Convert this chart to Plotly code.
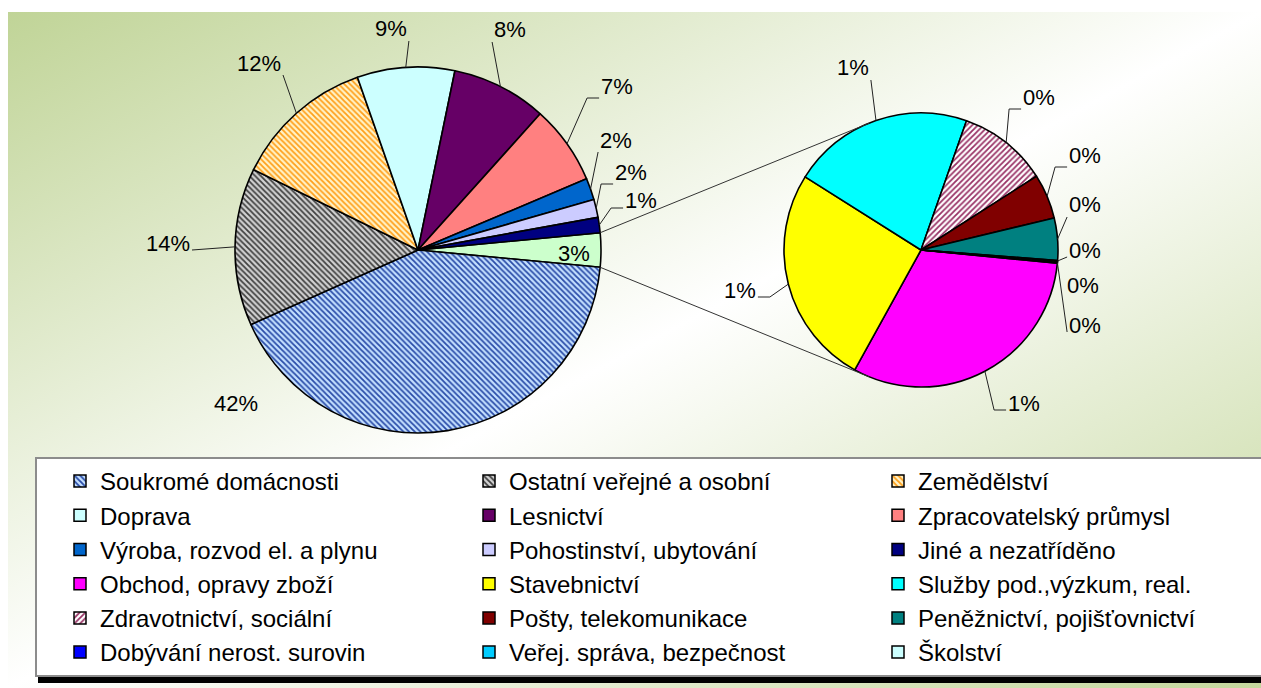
import math
import base64
import plotly.graph_objects as go

W, H = 1261, 688

# ---------------- data ----------------
categories = [
    "Soukromé domácnosti", "Ostatní veřejné a osobní", "Zemědělství",
    "Doprava", "Lesnictví", "Zpracovatelský průmysl",
    "Výroba, rozvod el. a plynu", "Pohostinství, ubytování", "Jiné a nezatříděno",
    "Obchod, opravy zboží", "Stavebnictví", "Služby pod.,výzkum, real.",
    "Zdravotnictví, sociální", "Pošty, telekomunikace", "Peněžnictví, pojišťovnictví",
    "Dobývání nerost. surovin", "Veřej. správa, bezpečnost", "Školství",
]
shares = [41.8, 13.9, 12.4, 8.6, 8.4, 7.0, 1.9, 1.6, 1.35,
          0.948, 0.78, 0.645, 0.318, 0.159, 0.15, 0.003, 0.003, 0.003]
n_main = 9  # first 9 categories in the main pie, the rest in the second pie
other_label = "Ostatní odvětví"

# ---------------- styles ----------------
colors = ["#99CCFF", "#969696", "#FFCC66", "#CCFFFF", "#660066", "#FF8080",
          "#0066CC", "#CCCCFF", "#000080", "#FF00FF", "#FFFF00", "#00FFFF",
          "#993366", "#800000", "#008080", "#0000FF", "#00CCFF", "#CCFFFF"]
pat_shape = ["\\", "\\", "\\", "", "", "", "", "", "", "", "", "",
             "/", "", "", "", "", ""]
pat_fg = ["#2A4CA8", "#404040", "#FF9F1A"] + colors[3:12] + ["#993366"] + colors[13:]
pat_bg = ["#C4E0FF", "#D2D2D2", "#FFF3C8"] + colors[3:12] + ["#FFFFFF"] + colors[13:]
other_color = "#CCFFCC"

FONT = "Liberation Sans, Arial, sans-serif"
LBL_SIZE = 22

C1 = (418.0, 250.0, 183.0)   # main pie centre / radius (px)
C2 = (921.0, 250.0, 137.0)   # second pie centre / radius (px)
ROT2 = 95.5

# label placement (px) and leader style per category
label_pos = {
    "Soukromé domácnosti": (236, 403, "none"),
    "Ostatní veřejné a osobní": (168, 243, "direct"),
    "Zemědělství": (259, 63, "direct"),
    "Doprava": (391, 29, "direct"),
    "Lesnictví": (510, 30, "direct"),
    "Zpracovatelský průmysl": (617, 86, "tail"),
    "Výroba, rozvod el. a plynu": (616, 140, "direct"),
    "Pohostinství, ubytování": (631, 172, "tail"),
    "Jiné a nezatříděno": (641, 201, "tail"),
    "Obchod, opravy zboží": (1024, 403, "tail"),
    "Stavebnictví": (740, 290, "tail"),
    "Služby pod.,výzkum, real.": (853, 68, "direct"),
    "Zdravotnictví, sociální": (1039, 97, "tail"),
    "Pošty, telekomunikace": (1085, 155, "tail"),
    "Peněžnictví, pojišťovnictví": (1085, 205, "direct"),
    "Dobývání nerost. surovin": (1085, 250, "direct"),
    "Veřej. správa, bezpečnost": (1083, 285, "none"),
    "Školství": (1085, 325, "direct"),
}


def px(x):
    return x / W


def py(y):
    return 1 - y / H


def pt(c, a_deg, rr=None):
    cx, cy, r = c
    rr = r if rr is None else rr
    a = math.radians(a_deg)
    return cx + rr * math.sin(a), cy - rr * math.cos(a)


def slices(values, rotation):
    tot = sum(values)
    acc = rotation
    out = []
    for v in values:
        a = 360.0 * v / tot
        out.append((acc, acc + a, acc + a / 2))
        acc += a
    return out


def domain(c):
    cx, cy, r = c
    return dict(x=[px(cx - r), px(cx + r)], y=[py(cy + r), py(cy - r)])


# main pie values (clockwise): other, then main categories
other_total = sum(shares[n_main:])
main_labels = [other_label] + categories[:n_main]
main_values = [other_total] + shares[:n_main]
main_total = sum(main_values)
other_deg = 360.0 * other_total / main_total
ROT1 = 90 - other_deg / 2

main_colors = [other_color] + colors[:n_main]
main_pshape = [""] + pat_shape[:n_main]
main_pfg = [other_color] + pat_fg[:n_main]
main_pbg = [other_color] + pat_bg[:n_main]

sec_labels = categories[n_main:]
sec_values = shares[n_main:]

fig = go.Figure()

common = dict(sort=False, direction="clockwise", textinfo="none",
              hoverinfo="skip", showlegend=False)

fig.add_trace(go.Pie(
    labels=main_labels, values=main_values, rotation=ROT1, domain=domain(C1),
    marker=dict(colors=main_colors, line=dict(color="black", width=1.6),
                pattern=dict(shape=main_pshape, fgcolor=main_pfg, bgcolor=main_pbg,
                             size=4, solidity=0.45)),
    **common))

fig.add_trace(go.Pie(
    labels=sec_labels, values=sec_values, rotation=ROT2, domain=domain(C2),
    marker=dict(colors=colors[n_main:], line=dict(color="black", width=1.6),
                pattern=dict(shape=pat_shape[n_main:], fgcolor=pat_fg[n_main:],
                             bgcolor=pat_bg[n_main:], size=4, solidity=0.45)),
    **common))

# legend carrier pie (tiny, hidden under the legend box)
fig.add_trace(go.Pie(
    labels=categories, values=[1] * len(categories), sort=False,
    textinfo="none", hoverinfo="skip", showlegend=True,
    domain=dict(x=[0.5, 0.5005], y=[0.15, 0.1505]),
    marker=dict(colors=colors, line=dict(color="black", width=1.5),
                pattern=dict(shape=pat_shape, fgcolor=pat_fg, bgcolor=pat_bg,
                             size=4, solidity=0.45))))

annotations = []
shapes = []


def add_line(p, q, color="#222222", width=1):
    shapes.append(dict(type="line", xref="paper", yref="paper",
                       x0=px(p[0]), y0=py(p[1]), x1=px(q[0]), y1=py(q[1]),
                       line=dict(color=color, width=width), layer="above"))


def pct_text(v):
    return f"{round(v * 100 / main_total):d}%"


def text_w(t):
    return LBL_SIZE * (0.556 * (len(t) - 1) + 0.889)


def add_label(cat, v, edge):
    cx, cy, kind = label_pos[cat]
    t = pct_text(v)
    annotations.append(dict(x=px(cx), y=py(cy), xref="paper", yref="paper",
                            text=t, showarrow=False, xanchor="center", yanchor="middle",
                            font=dict(family=FONT, size=LBL_SIZE, color="black")))
    if kind == "none":
        return
    ex, ey = edge
    hw = text_w(t) / 2
    if ex >= cx:
        ax, sgn = cx + hw + 2, 1
    else:
        ax, sgn = cx - hw - 2, -1
    ay = cy + 12 if ey > cy + 25 else cy + 7
    pts = [(ax, ay)]
    if kind == "tail":
        pts.append((ax + sgn * 12, ay))
    pts.append((ex, ey))
    for a, b in zip(pts[:-1], pts[1:]):
        add_line(a, b)


# labels of main pie
s1 = slices(main_values, ROT1)
for lab, v, (a0, a1, am) in zip(main_labels, main_values, s1):
    if lab == other_label:
        x, y = pt(C1, am, C1[2] * 0.85)
        annotations.append(dict(x=px(x), y=py(y + 3), xref="paper", yref="paper",
                                text=pct_text(v), showarrow=False,
                                font=dict(family=FONT, size=LBL_SIZE, color="black")))
    else:
        add_label(lab, v, pt(C1, am))

# labels of second pie
s2 = slices(sec_values, ROT2)
for lab, v, (a0, a1, am) in zip(sec_labels, sec_values, s2):
    add_label(lab, v, pt(C2, am))

# connector (tangent) lines between the "other" slice and the second pie
oa0, oa1, _ = s1[0]
cx2, cy2, r2 = C2
for a_deg, sgn in ((oa0, -1), (oa1, 1)):
    P = pt(C1, a_deg)
    dx, dy = cx2 - P[0], cy2 - P[1]
    d = math.hypot(dx, dy)
    th = math.atan2(dy, dx)
    ph = math.asin(r2 / d)
    L = math.sqrt(d * d - r2 * r2)
    ang = th + sgn * ph
    T = (P[0] + L * math.cos(ang), P[1] + L * math.sin(ang))
    add_line(P, T, color="#333333", width=1)

# legend shadow
LEG_X, LEG_Y = 35, 457
shapes.append(dict(type="rect", xref="paper", yref="paper",
                   x0=px(LEG_X + 3), x1=px(W + 10), y0=py(LEG_Y + 5), y1=py(683),
                   fillcolor="black", line=dict(width=0), layer="above"))

# gradient background
svg = ('<svg xmlns="http://www.w3.org/2000/svg" width="1253" height="676" '
       'preserveAspectRatio="none" viewBox="0 0 1253 676">'
       '<defs><linearGradient id="g" x1="0" y1="0" x2="1" y2="1">'
       '<stop offset="0" stop-color="#C0D497"/>'
       '<stop offset="0.5" stop-color="#FFFFFF"/>'
       '<stop offset="1" stop-color="#C4D79C"/>'
       '</linearGradient></defs>'
       '<rect x="0" y="0" width="1253" height="676" fill="url(#g)"/></svg>')
src = "data:image/svg+xml;base64," + base64.b64encode(svg.encode()).decode()

fig.update_layout(
    width=W, height=H,
    margin=dict(l=0, r=0, t=0, b=0, autoexpand=False),
    paper_bgcolor="white",
    plot_bgcolor="white",
    font=dict(family=FONT, color="black"),
    images=[dict(source=src, xref="paper", yref="paper", x=px(8), y=py(12),
                 sizex=(W - 8) / W, sizey=(H - 12) / H, xanchor="left", yanchor="top",
                 sizing="stretch", layer="below")],
    annotations=annotations,
    shapes=shapes,
    legend=dict(orientation="h", x=px(LEG_X), y=py(LEG_Y), xanchor="left", yanchor="top",
                bgcolor="white", bordercolor="#8C8C8C", borderwidth=2,
                font=dict(family=FONT, size=24, color="black"),
                entrywidth=341, entrywidthmode="pixels", indentation=23,
                traceorder="normal"),
)

fig.write_html("out.html",
               config={"displayModeBar": False},
               post_script="document.body.style.margin='0';document.body.style.overflow='hidden';")
